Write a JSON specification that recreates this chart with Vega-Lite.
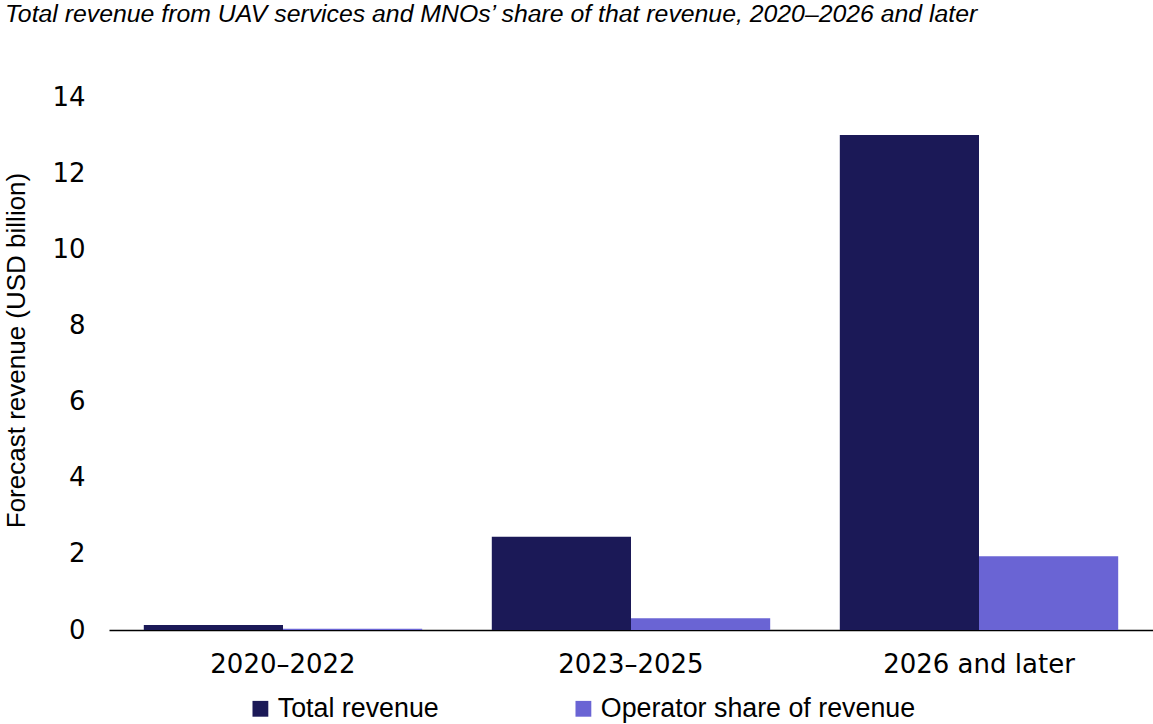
{
  "$schema": "https://vega.github.io/schema/vega-lite/v6.json",
  "autosize": {"type": "none"},
  "width": 1044,
  "height": 533,
  "padding": {"left": 109, "top": 97, "right": 0, "bottom": 94},
  "background": "white",
  "config": {
    "view": {"stroke": null},
    "font": "Liberation Sans"
  },
  "title": {
    "text": "Total revenue from UAV services and MNOs’ share of that revenue, 2020–2026 and later",
    "anchor": "start",
    "frame": "group",
    "fontSize": 24.8,
    "fontStyle": "italic",
    "fontWeight": "normal",
    "font": "Liberation Sans",
    "color": "#000000",
    "dx": -104,
    "offset": 57
  },
  "data": {
    "values": [
      {"period": "2020–2022", "series": "Total revenue", "value": 0.13},
      {"period": "2020–2022", "series": "Operator share of revenue", "value": 0.03},
      {"period": "2023–2025", "series": "Total revenue", "value": 2.45},
      {"period": "2023–2025", "series": "Operator share of revenue", "value": 0.31},
      {"period": "2026 and later", "series": "Total revenue", "value": 13.0},
      {"period": "2026 and later", "series": "Operator share of revenue", "value": 1.94}
    ]
  },
  "mark": {"type": "bar"},
  "encoding": {
    "x": {
      "field": "period",
      "type": "nominal",
      "sort": ["2020–2022", "2023–2025", "2026 and later"],
      "scale": {"paddingInner": 0.2, "paddingOuter": 0.1},
      "axis": {
        "title": null,
        "labelAngle": 0,
        "labelFont": "DejaVu Sans",
        "labelFontSize": 26,
        "labelColor": "#000000",
        "labelPadding": 21,
        "labelLimit": 400,
        "ticks": false,
        "domainColor": "#000000",
        "domainWidth": 1.5,
        "grid": false
      }
    },
    "xOffset": {
      "field": "series",
      "type": "nominal",
      "sort": ["Total revenue", "Operator share of revenue"],
      "scale": {"paddingInner": 0, "paddingOuter": 0}
    },
    "y": {
      "field": "value",
      "type": "quantitative",
      "scale": {"domain": [0, 14], "nice": false},
      "axis": {
        "title": "Forecast revenue (USD billion)",
        "titleFont": "Liberation Sans",
        "titleFontSize": 26,
        "titleFontWeight": "normal",
        "titleColor": "#000000",
        "titlePadding": 22,
        "titleY": 253,
        "labelFont": "DejaVu Sans",
        "labelFontSize": 26,
        "labelColor": "#000000",
        "labelPadding": 24,
        "values": [0, 2, 4, 6, 8, 10, 12, 14],
        "ticks": false,
        "domain": false,
        "grid": false
      }
    },
    "color": {
      "field": "series",
      "type": "nominal",
      "sort": ["Total revenue", "Operator share of revenue"],
      "scale": {
        "domain": ["Total revenue", "Operator share of revenue"],
        "range": ["#1B1957", "#6A64D4"]
      },
      "legend": {
        "title": null,
        "orient": "none",
        "direction": "horizontal",
        "legendX": 138,
        "legendY": 598,
        "symbolType": "square",
        "symbolSize": 250,
        "symbolStrokeWidth": 0,
        "labelFont": "Liberation Sans",
        "labelFontSize": 26.8,
        "labelColor": "#000000",
        "labelOffset": 4,
        "labelLimit": 500,
        "columnPadding": 131
      }
    }
  }
}
